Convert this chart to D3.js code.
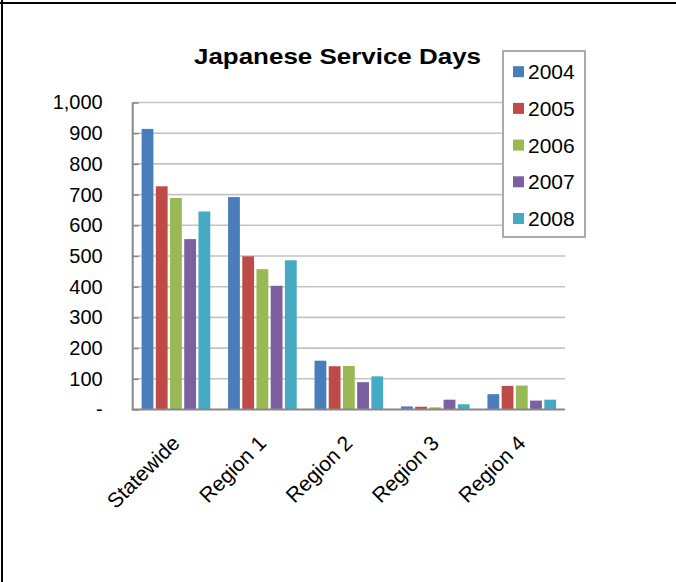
<!DOCTYPE html>
<html>
<head>
<meta charset="utf-8">
<script src="https://cdn.jsdelivr.net/npm/d3@7"></script>
<style>
  html, body { margin: 0; padding: 0; background: #fff; }
  svg { display: block; font-family: "Liberation Sans", Arial, sans-serif; }
</style>
</head>
<body>
<svg id="chart" width="676" height="582"></svg>
<script>
// Japanese service days by area, 2004–2008
const categories = ["Statewide", "Region 1", "Region 2", "Region 3", "Region 4"];
const years = ["2004", "2005", "2006", "2007", "2008"];
const days2004 = [914, 692, 159, 10, 50];
const days2005 = [727, 499, 141, 9, 77];
const days2006 = [689, 457, 142, 7, 78];
const days2007 = [555, 403, 89, 32, 29];
const days2008 = [645, 486, 108, 17, 32];
const tickValues = [0, 100, 200, 300, 400, 500, 600, 700, 800, 900, 1000];
const tickLabels = ["-", "100", "200", "300", "400", "500", "600", "700", "800", "900", "1,000"];
const colors = ["#4a7ebb", "#be4b48", "#98b954", "#7d60a0", "#46aac5"];

const seriesValues = [days2004, days2005, days2006, days2007, days2008];

const svg = d3.select("#chart");

// page frame (top and left rules)
svg.append("line").attr("x1", 0).attr("x2", 676).attr("y1", 3).attr("y2", 3)
  .attr("stroke", "#000").attr("stroke-width", 2);
svg.append("line").attr("x1", 2).attr("x2", 2).attr("y1", 0).attr("y2", 582)
  .attr("stroke", "#000").attr("stroke-width", 2);

const plot = { left: 132.7, right: 565, top: 102.5, bottom: 409.5 };

const y = d3.scaleLinear().domain([0, 1000]).range([plot.bottom, plot.top]);
const x0 = d3.scaleBand().domain(categories).range([plot.left, plot.right])
  .paddingInner(0.178).paddingOuter(0.089);
const x1 = d3.scaleBand().domain(years).range([0, x0.bandwidth()]);

// gridlines
svg.append("g").selectAll("line")
  .data(tickValues.filter(v => v > 0))
  .join("line")
  .attr("x1", plot.left).attr("x2", plot.right)
  .attr("y1", d => y(d)).attr("y2", d => y(d))
  .attr("stroke", "#c3c3c3").attr("stroke-width", 1.6);

// bars
const groups = svg.append("g").selectAll("g")
  .data(categories)
  .join("g")
  .attr("transform", d => `translate(${x0(d)},0)`);

groups.selectAll("rect")
  .data((c, ci) => years.map((yr, si) => ({ yr, si, v: seriesValues[si][ci] })))
  .join("rect")
  .attr("x", d => x1(d.yr) + 1.2)
  .attr("width", x1.bandwidth() - 2.4)
  .attr("y", d => y(d.v))
  .attr("height", d => y(0) - y(d.v))
  .attr("fill", d => colors[d.si]);

// y axis
const yAxis = d3.axisLeft(y).tickValues(tickValues)
  .tickFormat((d, i) => tickLabels[i]).tickSize(6).tickPadding(25);
const gy = svg.append("g").attr("transform", `translate(${plot.left},0)`).call(yAxis);
gy.select(".domain").attr("stroke", "#878787").attr("stroke-width", 2)
  .attr("d", `M0,${plot.top}V${plot.bottom}`);
gy.selectAll(".tick line").attr("stroke", "#878787").attr("stroke-width", 1.5)
  .attr("x1", 0).attr("x2", 6);
gy.selectAll(".tick text").attr("font-size", 20).attr("fill", "#000")
  .attr("font-family", "Liberation Sans, Arial, sans-serif")
  .attr("x", -30);

// x axis baseline
svg.append("line").attr("x1", plot.left - 1).attr("x2", plot.right)
  .attr("y1", plot.bottom).attr("y2", plot.bottom)
  .attr("stroke", "#878787").attr("stroke-width", 2);

// category labels
svg.append("g").selectAll("text")
  .data(categories)
  .join("text")
  .attr("transform", d => `translate(${x0(d) + x0.bandwidth() / 2 + 5},${plot.bottom + 35}) rotate(-45)`)
  .attr("text-anchor", "end")
  .attr("font-size", 21)
  .attr("fill", "#000")
  .text(d => d);

// title, drawn slightly wide
svg.append("text")
  .attr("transform", "translate(337.5,64) scale(1.18,1)")
  .attr("text-anchor", "middle")
  .attr("font-size", 22).attr("font-weight", "bold")
  .attr("fill", "#000")
  .text("Japanese Service Days");

// legend
const legend = svg.append("g");
legend.append("rect")
  .attr("x", 503).attr("y", 51).attr("width", 82).attr("height", 186)
  .attr("fill", "#fff").attr("stroke", "#aaaaaa").attr("stroke-width", 2);
const items = legend.selectAll("g.item")
  .data(years)
  .join("g").attr("class", "item")
  .attr("transform", (d, i) => `translate(513,${71.7 + i * 36.7})`);
items.append("rect")
  .attr("x", 0).attr("y", -5.5).attr("width", 11).attr("height", 11)
  .attr("fill", (d, i) => colors[i]);
items.append("text")
  .attr("x", 15).attr("y", 7.5)
  .attr("font-size", 21).attr("fill", "#000")
  .text(d => d);
</script>
</body>
</html>
